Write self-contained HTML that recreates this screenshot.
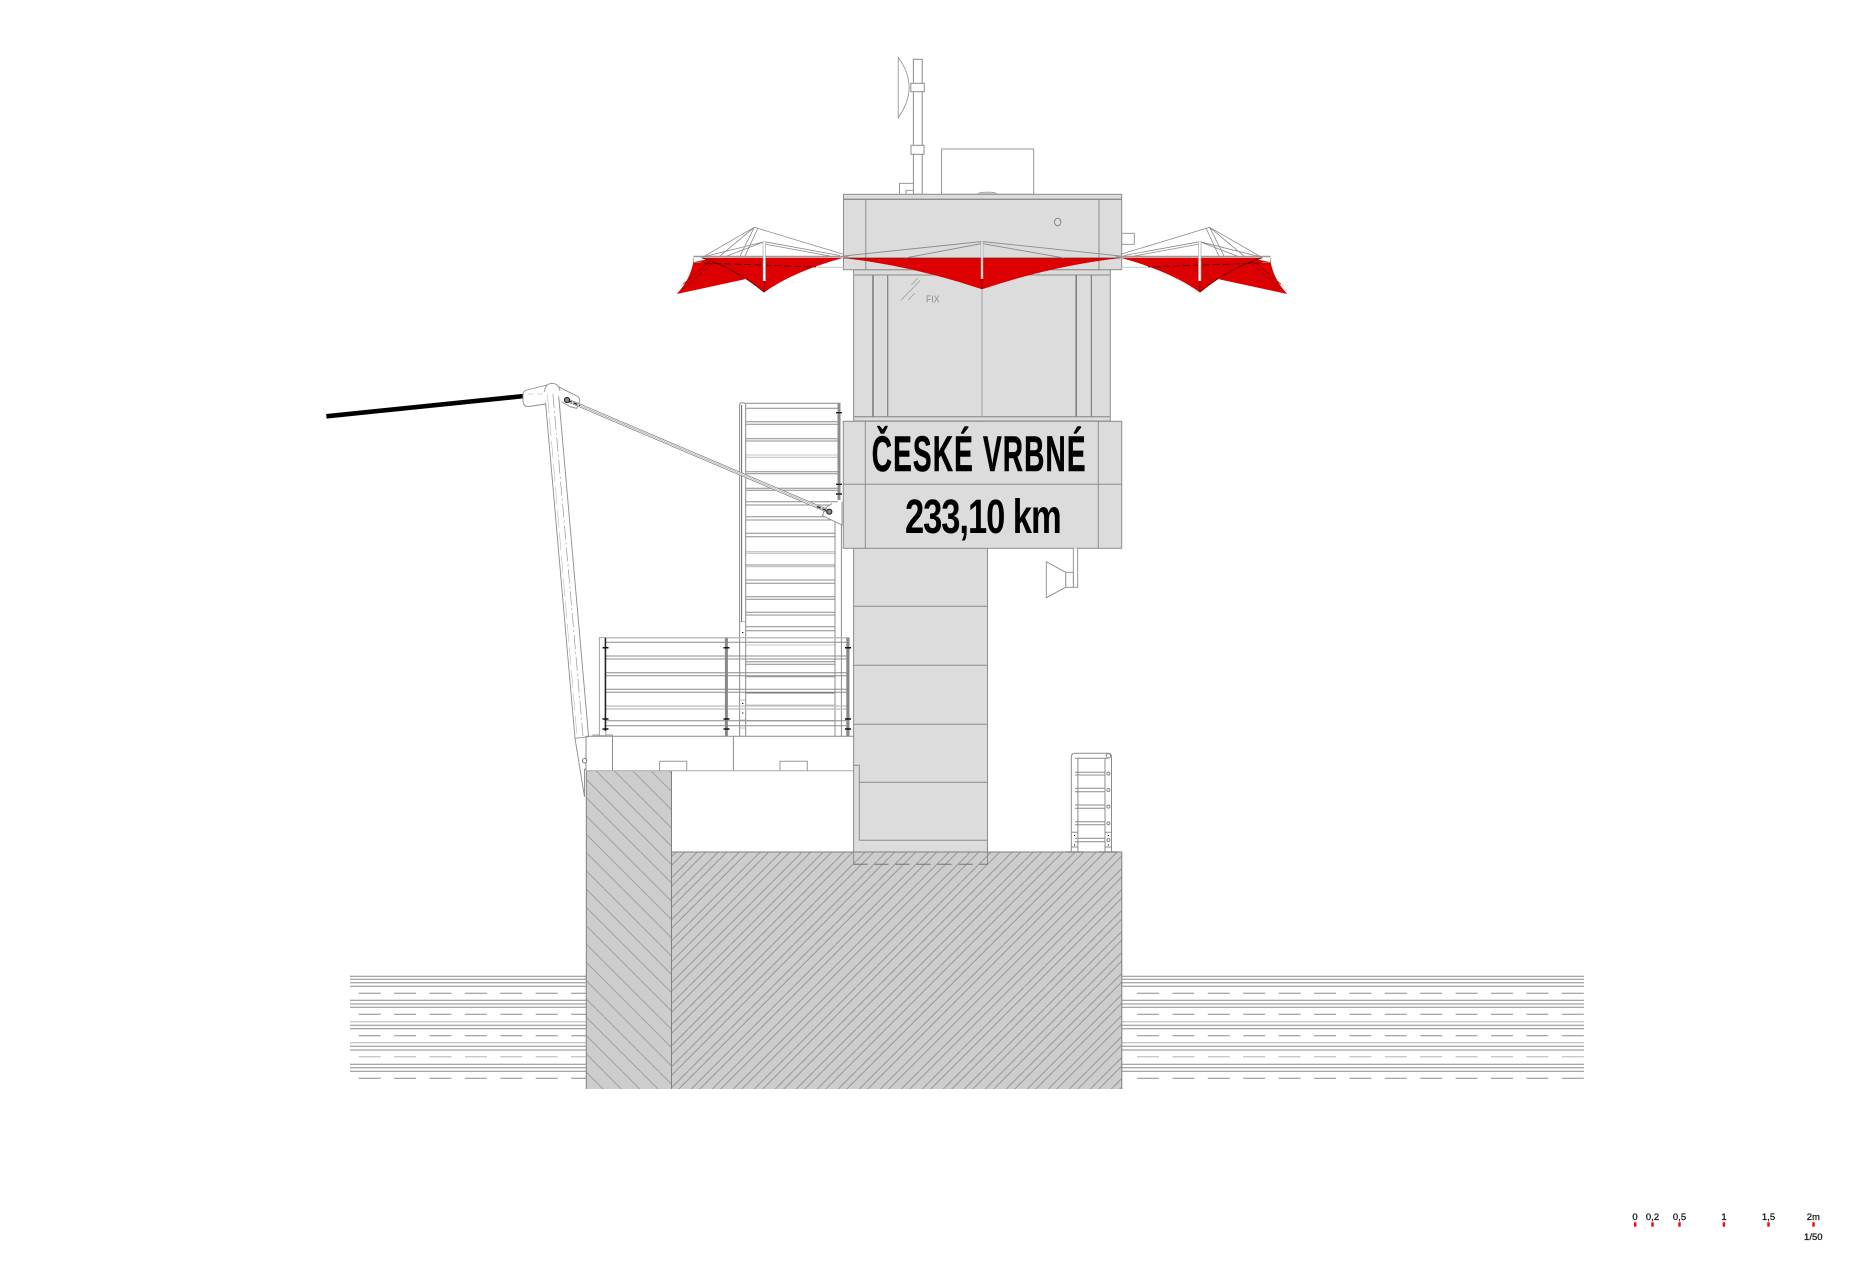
<!DOCTYPE html>
<html><head><meta charset="utf-8"><style>html,body{margin:0;padding:0;background:#fff}svg{display:block}</style></head><body>
<svg xmlns="http://www.w3.org/2000/svg" width="1872" height="1261" viewBox="0 0 1872 1261">
<defs>
<pattern id="hl" patternUnits="userSpaceOnUse" width="18.3" height="18.3" patternTransform="translate(0,10.1)"><path d="M-2-2L20.3 20.3" stroke="#8f8f8f" stroke-width=".75" fill="none"/></pattern>
<pattern id="hr" patternUnits="userSpaceOnUse" width="21" height="21" patternTransform="translate(16.3,0)"><path d="M-1 22L22-1M-1 9.5L9.5-1M7.5 22L22 7.5" stroke="#8f8f8f" stroke-width=".85" fill="none"/></pattern>
<g id="wing">
<path d="M693.3 262.3Q690 280 676.7 294L745 279.3L738 270L713.3 258Z" fill="#dd0000"/>
<path d="M701.7 257.7H843.3Q792 272 764.3 292.3Q735 268 701.7 257.7Z" fill="#dd0000"/>
<path d="M701.7 257.7Q735 268 764.3 292.3" fill="none" stroke="#500" stroke-width=".8"/>
<path d="M704 263L816 267" fill="none" stroke="#400" stroke-width=".8" stroke-dasharray="7 3"/>
<path d="M713 263L683 289M708 263L681 286" fill="none" stroke="#700" stroke-width=".6" stroke-dasharray="5 2"/>
<path d="M693.3 256.5H848.5" stroke="#999" stroke-width="1.6" fill="none"/>
<path d="M693.3 258V262.3H701.7" stroke="#888" stroke-width=".8" fill="none"/>
<path d="M816.7 267.3H843.5" stroke="#ccc" stroke-width="1.2" fill="none"/>
<path d="M754.3 227.3L843.3 254.3M754.3 227.3L703 257M764.3 241.7L840 255.5M764.3 241.7L703 257M754.3 227.3L740 256M754.3 227.3L720 256M764.3 241.7L727 256M758 228L745 256M764.3 244L830 256" fill="none" stroke="#8a8a8a" stroke-width=".8"/>
<path d="M764.3 241.7V281" stroke="#fff" stroke-width="2.2" fill="none"/>
<path d="M763 241.7V281M765.6 241.7V281" stroke="#999" stroke-width=".6" fill="none"/>
<path d="M764.3 281V292" stroke="#700" stroke-width=".8" fill="none"/>
</g>
</defs>
<rect width="1872" height="1261" fill="#fff"/>

<!-- water -->
<g fill="none" stroke="#8c8c8c" stroke-width="1">
<path d="M350 976.3H586M350 979.3H586M350 982.7H586M350 986.3H586M350 1000.3H586M350 1004H586M350 1007.3H586M350 1025.3H586M350 1028.7H586M350 1046.3H586M350 1050H586M350 1064.3H586M350 1067.7H586M350 1071.3H586"/>
<path d="M1121 976.3H1584M1121 979.3H1584M1121 982.7H1584M1121 986.3H1584M1121 1000.3H1584M1121 1004H1584M1121 1007.3H1584M1121 1025.3H1584M1121 1028.7H1584M1121 1046.3H1584M1121 1050H1584M1121 1064.3H1584M1121 1067.7H1584M1121 1071.3H1584"/>
<path d="M350 1021.7H586M350 1042.7H586M1121 1021.7H1584M1121 1042.7H1584" stroke="#c8c8c8" stroke-width="1.3"/>
<path d="M358.7 993.3H586M358.7 1014.3H586M358.7 1035.7H586M358.7 1078.3H586" stroke-dasharray="22 13.4"/>
<path d="M1137 993.3H1584M1137 1014.3H1584M1137 1035.7H1584M1137 1078.3H1584" stroke-dasharray="22 13.4"/>
<path d="M358.7 1056.7H586M1137 1056.7H1584" stroke="#c8c8c8" stroke-width="1.4" stroke-dasharray="22 13.4"/>
</g>

<!-- ground hatch -->
<rect x="586.3" y="770.7" width="85.2" height="318.3" fill="#cdcdcd"/>
<rect x="586.3" y="770.7" width="85.2" height="318.3" fill="url(#hl)"/>
<rect x="671.5" y="852" width="450.3" height="237" fill="#cdcdcd"/>
<rect x="671.5" y="852" width="450.3" height="237" fill="url(#hr)"/>
<path d="M586.3 770.7V1089M671.5 770.7V1089M671.5 852H1121.8V1089" fill="none" stroke="#808080" stroke-width="1"/>

<!-- column -->
<rect x="853.6" y="548" width="133.9" height="304" fill="#dcdcdc"/>
<path d="M853.6 548V864.3M987.5 548V864.3" fill="none" stroke="#8c8c8c" stroke-width="1"/>
<path d="M853.6 606.3H987.5M853.6 665.3H987.5M853.6 724.3H987.5M859.3 782.3H987.5M859.3 840.3H987.5M853.6 765.3H859.3V840.3" fill="none" stroke="#8c8c8c" stroke-width="1"/>
<path d="M853.6 864.3H987.5" fill="none" stroke="#777" stroke-width="1" stroke-dasharray="14 7"/>
<path d="M671.5 852H1121.8" stroke="#808080" stroke-width="1" fill="none"/>

<!-- platform -->
<path d="M586 736.3H853.6M586 736.3V770.7M612.5 736.3V770.7M733.4 736.3V770.7" fill="none" stroke="#8c8c8c" stroke-width="1"/>
<path d="M586 770.7H853.6" fill="none" stroke="#aaa" stroke-width="1"/>
<path d="M659.6 770.7V761.3H686.7V770.7M780 770.7V761.3H807.3V770.7M593 736V735H612.5V736" fill="none" stroke="#999" stroke-width="1"/>

<!-- pole -->
<path d="M544.6 391.7L575 738.3L584.5 796.7M558.2 390.7L588.6 736.7" fill="none" stroke="#8c8c8c" stroke-width=".9"/>
<path d="M575 738.3L588.6 736.7M584.5 769V796.7M584.5 769H586" fill="none" stroke="#8c8c8c" stroke-width=".9"/>
<path d="M552.9 394L583 736" fill="none" stroke="#999" stroke-width=".7" stroke-dasharray="14 3 2 3"/>
<path d="M547.5 395L577 736" fill="none" stroke="#bbb" stroke-width=".6" stroke-dasharray="18 5"/>
<circle cx="584.6" cy="760.7" r="2.2" fill="#fff" stroke="#555" stroke-width=".8"/>
<!-- beam -->
<path d="M326.4 416.3L524.3 396" fill="none" stroke="#000" stroke-width="4.6"/>
<!-- head -->
<path d="M551.7 383.3L578.3 396.7L580 400L576.7 408.3L570 406.7L561.7 401.7" fill="#fff" stroke="#8c8c8c" stroke-width=".9"/>
<path d="M547 385L527 390Q523 391 523 394V402Q524 407 529 406.5L545.5 404" fill="#fff" stroke="#8c8c8c" stroke-width=".9"/>
<path d="M544.6 391.7Q545 384 551.7 383.3Q559 383.5 560 391" fill="#fff" stroke="#8c8c8c" stroke-width=".9"/>
<path d="M528 394H546" fill="none" stroke="#ccc" stroke-width=".7" stroke-dasharray="6 3"/>

<!-- stair -->
<g fill="none">
<path d="M745.7 403.3H838M745.7 408.3H838M745.7 421.7H838M745.7 424.3H838M745.7 438.7H838M745.7 441H838M745.7 471.7H838M745.7 473.7H838M745.7 488.3H838M745.7 490.3H838M745.7 501.7H838M745.7 505H838M745.7 516.7H835M745.7 520H835M745.7 533.3H835M745.7 536.7H835M745.7 565H835M745.7 580H835M745.7 583.3H835M745.7 596.7H835M745.7 599.3H835M745.7 612.3H835M745.7 615H835M745.7 626.7H835M745.7 630.7H835M745.7 661.7H835M745.7 664.3H835M745.7 676.7H835M745.7 692.7H835M745.7 720.7H835" stroke="#8c8c8c" stroke-width="1"/>
<path d="M745.7 455H838M745.7 457.3H838M745.7 551.7H835M745.7 553.3H835M745.7 566.7H835M745.7 645H835M745.7 705H835" stroke="#c4c4c4" stroke-width="1.1"/>
<path d="M745.7 692.7H835" stroke="#444" stroke-width="1"/>
<path d="M739.6 736V405Q739.6 402.7 742.6 402.7Q745.7 402.7 745.7 405V736" stroke="#8c8c8c" stroke-width="1"/>
<path d="M741.6 405V621.7" stroke="#666" stroke-width="1"/>
<path d="M739.6 621.7H745.7M739.6 700H745.7M739.6 720H745.7M739.6 728H745.7" stroke="#aaa" stroke-width=".8"/>
<path d="M835 511V736M841.4 511V736" stroke="#8c8c8c" stroke-width="1"/>
<path d="M839 402.7V500" stroke="#8c8c8c" stroke-width="3"/>
<path d="M836 412.7H842M836 484.3H842M836 494H842" stroke="#222" stroke-width="1.4"/>
<path d="M742.7 632v1M742.7 703v1M742.7 712.5v1" stroke="#000" stroke-width="1.2"/>
</g>

<!-- railing -->
<g>
<path d="M606 637.7H849M606 642.3H849M606 656H849M606 659H849M606 672.7H849M606 675.7H849M606 689.3H849M606 692.3H849M606 720.7H849M606 725.7H849" fill="none" stroke="#8c8c8c" stroke-width="1"/>
<path d="M606 706H849M606 709H849M606 637.7H849" fill="none" stroke="#bdbdbd" stroke-width="1.2"/>
<rect x="599.3" y="637.7" width="6.5" height="98" fill="#fff" stroke="#8c8c8c" stroke-width=".8"/>
<path d="M605.4 638V731" stroke="#222" stroke-width="1.5" fill="none"/>
<path d="M726.4 637.7V736" stroke="#888" stroke-width="3" fill="none"/>
<path d="M847.9 637.7V736" stroke="#888" stroke-width="3.2" fill="none"/>
<path d="M602.5 647.7H608.5M602.5 719H608.5M602.5 729H608.5M723.5 647.7H729.5M723.5 719H729.5M723.5 729H729.5M845 647.7H851M845 719H851M845 729H851" stroke="#111" stroke-width="1.5" fill="none"/>
</g>

<!-- roof equipment -->
<g fill="#fff" stroke="#8c8c8c" stroke-width="1">
<rect x="913.4" y="59.3" width="8.8" height="135"/>
<rect x="910.8" y="83.3" width="13.5" height="8.4"/>
<rect x="911" y="145.3" width="13" height="9"/>
<path d="M898.2 57.3Q920 87 898.2 117.7Z" stroke-width=".8"/>
<path d="M913.4 183.3H899.5V194.3M913.4 190.3H906V194.3" fill="none" stroke-width=".9"/>
<rect x="941.6" y="149" width="92.1" height="45.3" fill="#fff" stroke-width=".9"/>
<ellipse cx="987.4" cy="193.6" rx="9" ry="1.6" fill="#ccc" stroke-width=".6"/>
<rect x="1121.7" y="233.3" width="12.6" height="11" stroke-width=".9"/>
</g>

<!-- body -->
<rect x="853.6" y="269.7" width="256.7" height="151.3" fill="#dcdcdc" stroke="#8c8c8c" stroke-width="1"/>
<path d="M853.6 275H1110.3M853.6 416.7H1110.3" fill="none" stroke="#999" stroke-width="1.3"/>
<path d="M873 275V416.7M1076.2 275V416.7" fill="none" stroke="#808080" stroke-width="1.6"/>
<path d="M887.7 275V416.7M1091.4 275V416.7" fill="none" stroke="#808080" stroke-width="1.2"/>
<path d="M982 275V416.7" fill="none" stroke="#aaa" stroke-width="1.2"/>
<path d="M901.2 300L920 280.7M908.3 300L914.6 293.3M911.3 285L917.6 278.3" fill="none" stroke="#a0a0a0" stroke-width=".8"/>
<text x="926" y="302.7" font-family="Liberation Sans, sans-serif" font-size="10.5" fill="#8c8c8c" textLength="13.5" lengthAdjust="spacingAndGlyphs">FIX</text>

<!-- roof box -->
<rect x="843.5" y="194.3" width="278.2" height="75.4" fill="#dcdcdc" stroke="#8c8c8c" stroke-width="1"/>
<path d="M843.5 199.3H1121.7" stroke="#8c8c8c" stroke-width="1.4" fill="none"/>
<path d="M865.8 199.3V269.7M1099 199.3V269.7" stroke="#8c8c8c" stroke-width="1" fill="none"/>
<ellipse cx="1057.7" cy="222" rx="3.2" ry="3.8" fill="none" stroke="#777" stroke-width=".8"/>

<!-- central red -->
<path d="M843.5 258H1120.5Q1051 266 982 289.3Q913 266 843.5 258Z" fill="#dd0000"/>
<path d="M843.5 258H1120.5" stroke="#7a2020" stroke-width=".8" fill="none"/>
<path d="M843.5 256L982 241.5L1120.5 256M905 258L982 243.5L1064 258" fill="none" stroke="#8c8c8c" stroke-width=".9"/>
<path d="M982 241.3V279" stroke="#fff" stroke-width="1.6" fill="none"/>
<path d="M981 241.3V279M983 241.3V279" stroke="#999" stroke-width=".6" fill="none"/>
<path d="M982 279V289" stroke="#700" stroke-width=".8" fill="none"/>

<!-- wings -->
<use href="#wing"/>
<use href="#wing" transform="matrix(-1 0 0 1 1964 0)"/>

<!-- sign -->
<rect x="843.3" y="421.3" width="278.4" height="127" fill="#dcdcdc" stroke="#8c8c8c" stroke-width="1"/>
<path d="M843.3 484.3H1121.7M865.3 421.3V548.3M1098.3 421.3V548.3" fill="none" stroke="#8c8c8c" stroke-width="1"/>
<text transform="translate(871.7 471) scale(.56 1)" x="0" y="0" font-family="Liberation Sans, sans-serif" font-weight="bold" font-size="50" fill="#000" stroke="#000" stroke-width=".6" textLength="382" lengthAdjust="spacing">ČESKÉ VRBNÉ</text>
<text transform="translate(905 533) scale(.72 1)" x="0" y="0" font-family="Liberation Sans, sans-serif" font-weight="bold" font-size="48" fill="#000" textLength="217.6" lengthAdjust="spacing">233,10 km</text>

<!-- stay and bracket -->
<path d="M842 501.7V525L822.5 515.7L825 508.3L832 503.5" fill="#fff" stroke="#8c8c8c" stroke-width=".9"/>
<g fill="none">
<path d="M567 400L829.3 511.7" stroke="#888" stroke-width="3.6"/>
<path d="M567 400L829.3 511.7" stroke="#fff" stroke-width="2"/>
<path d="M567 400L829.3 511.7" stroke="#999" stroke-width=".6"/>
<path d="M568 400.5L580 405.5M817 506.5L829 511.5" stroke="#222" stroke-width="1.3" stroke-dasharray="4 2"/>
</g>
<circle cx="567" cy="400" r="2.6" fill="#888" stroke="#222" stroke-width="1"/>
<circle cx="829.3" cy="511.7" r="2.6" fill="#888" stroke="#222" stroke-width="1"/>

<!-- speaker -->
<g fill="#fff" stroke="#8c8c8c" stroke-width=".9">
<path d="M1073.3 548.3V587.3H1077.7V548.3"/>
<rect x="1065.7" y="572.3" width="7.6" height="15"/>
<path d="M1065.7 572.3L1046.3 561.7V597.7L1065.7 587.3Z"/>
</g>

<!-- small ladder -->
<g fill="none" stroke="#8c8c8c" stroke-width="1">
<path d="M1071.3 852V757Q1071.3 753.3 1075 753.3H1108Q1111.5 753.3 1111.5 757V852"/>
<path d="M1077.9 852V758.3M1105 852V758.3"/>
<path d="M1075 758.3H1108"/>
<path d="M1075 772.3H1105M1075 775H1105M1075 788.3H1105M1075 791.7H1105M1075 805H1105M1075 808.3H1105M1075 821.7H1105M1075 824.7H1105M1075 838.3H1105M1075 841.7H1105"/>
<path d="M1071.3 832.3H1077.9M1105 832.3H1111.5M1071.3 847H1077.9M1105 847H1111.5"/>
<path d="M1065.6 852H1083.6M1099 852H1117" stroke-width="1.6"/>
<circle cx="1108.4" cy="755.8" r="2.2"/>
<circle cx="1108.4" cy="773.6" r="1.5"/>
<circle cx="1108.4" cy="790" r="1.5"/>
<circle cx="1108.4" cy="806.6" r="1.5"/>
<circle cx="1108.4" cy="823.2" r="1.5"/>
<circle cx="1108.4" cy="840" r="1.5"/>
<path d="M1074.6 835v1M1074.6 844.5v1M1108.4 835v1M1108.4 844.5v1" stroke="#000" stroke-width="1.2"/>
</g>

<!-- scale -->
<g fill="#f00">
<rect x="1634" y="1222.3" width="2.4" height="4.4"/>
<rect x="1651.3" y="1222.3" width="2.4" height="4.4"/>
<rect x="1678.3" y="1222.3" width="2.4" height="4.4"/>
<rect x="1722.7" y="1222.3" width="2.4" height="4.4"/>
<rect x="1767.3" y="1222.3" width="2.4" height="4.4"/>
<rect x="1812.3" y="1222.3" width="2.4" height="4.4"/>
</g>
<g font-family="Liberation Sans, sans-serif" font-size="9.5" fill="#111" stroke="#111" stroke-width=".25" text-anchor="middle">
<text x="1635" y="1220">0</text>
<text x="1652.5" y="1220">0,2</text>
<text x="1679.5" y="1220">0,5</text>
<text x="1724" y="1220">1</text>
<text x="1768.5" y="1220">1,5</text>
<text x="1813.3" y="1220">2m</text>
<text x="1813.3" y="1240">1/50</text>
</g>
</svg>
</body></html>
